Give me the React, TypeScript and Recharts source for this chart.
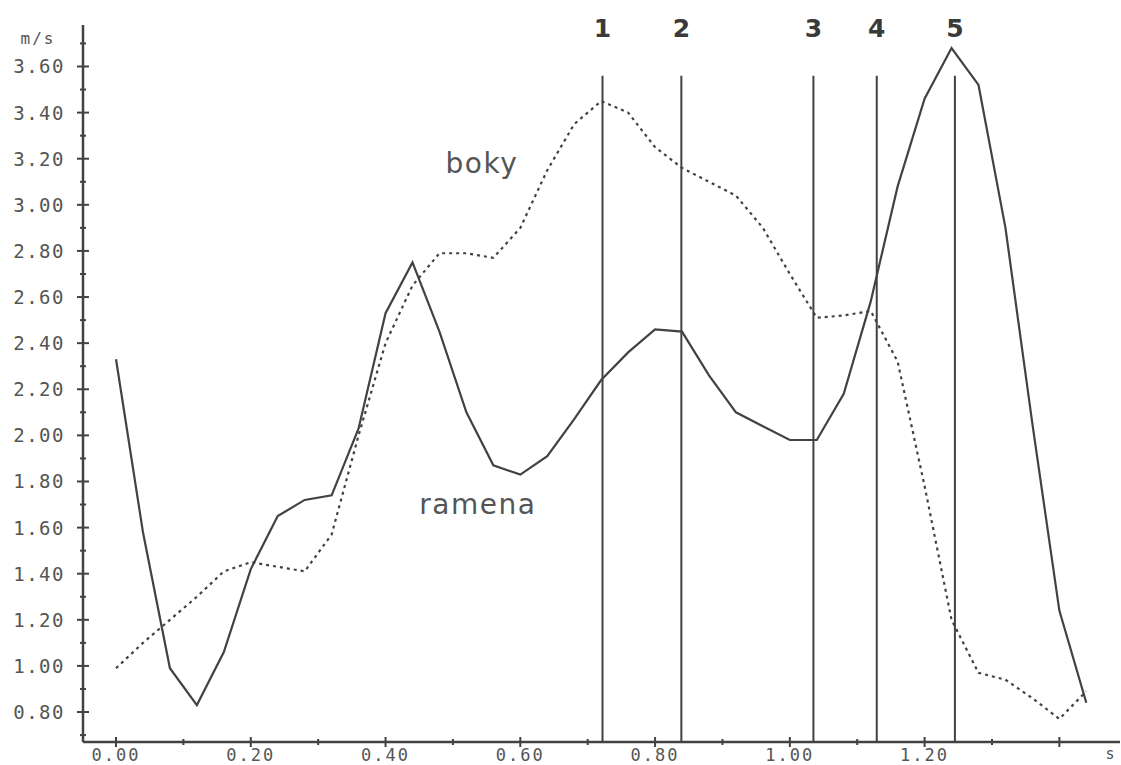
import { LineChart, Line, XAxis, YAxis, ReferenceLine, ReferenceDot } from "recharts";

const times = [
  0.0, 0.04, 0.08, 0.12, 0.16, 0.2, 0.24, 0.28, 0.32, 0.36, 0.4, 0.44, 0.48,
  0.52, 0.56, 0.6, 0.64, 0.68, 0.72, 0.76, 0.8, 0.84, 0.88, 0.92, 0.96, 1.0,
  1.04, 1.08, 1.12, 1.16, 1.2, 1.24, 1.28, 1.32, 1.36, 1.4, 1.44,
];

// shoulders (solid)
const ramena = [
  2.33, 1.58, 0.99, 0.83, 1.06, 1.42, 1.65, 1.72, 1.74, 2.03, 2.53, 2.75, 2.45,
  2.1, 1.87, 1.83, 1.91, 2.07, 2.24, 2.36, 2.46, 2.45, 2.26, 2.1, 2.04, 1.98,
  1.98, 2.18, 2.58, 3.08, 3.46, 3.68, 3.52, 2.9, 2.05, 1.24, 0.84,
];

// hips (dotted)
const boky = [
  0.99, 1.1, 1.2, 1.3, 1.41, 1.45, 1.43, 1.41, 1.57, 2.0, 2.4, 2.65, 2.79,
  2.79, 2.77, 2.9, 3.15, 3.35, 3.45, 3.4, 3.25, 3.16, 3.1, 3.04, 2.9, 2.7,
  2.51, 2.52, 2.54, 2.32, 1.78, 1.2, 0.97, 0.94, 0.86, 0.77, 0.89,
];

const markerTimes = [0.722, 0.839, 1.035, 1.129, 1.245];
const markerLabels = ["1", "2", "3", "4", "5"];

const xTicks = [0, 0.1, 0.2, 0.3, 0.4, 0.5, 0.6, 0.7, 0.8, 0.9, 1.0, 1.1, 1.2, 1.3, 1.4];
const yTicks = [
  0.7, 0.8, 0.9, 1.0, 1.1, 1.2, 1.3, 1.4, 1.5, 1.6, 1.7, 1.8, 1.9, 2.0, 2.1,
  2.2, 2.3, 2.4, 2.5, 2.6, 2.7, 2.8, 2.9, 3.0, 3.1, 3.2, 3.3, 3.4, 3.5, 3.6, 3.7,
];

const INK = "#424242";
const TEXT = "#555";
const MONO = "'DejaVu Sans Mono', monospace";

const data = times.map((t, i) => ({ t, ramena: ramena[i], boky: boky[i] }));

const isMajor = (v: number) => Math.round(v * 10) % 2 === 0;

function YTick(props: any) {
  const { x, y, payload } = props;
  const v = payload.value as number;
  const major = isMajor(v);
  return (
    <g>
      <line x1={major ? x - 6 : x - 3} x2={major ? x + 6 : x + 3} y1={y} y2={y} stroke={INK} strokeWidth={2} />
      {major && (
        <text x={x - 18} y={y} textAnchor="end" dominantBaseline="central" fontFamily={MONO} fontSize={19} letterSpacing={1.5} fill={TEXT}>
          {v.toFixed(2)}
        </text>
      )}
    </g>
  );
}

function XTick(props: any) {
  const { x, y, payload } = props;
  const v = payload.value as number;
  const major = isMajor(v);
  return (
    <g>
      <line x1={x} x2={x} y1={major ? y - 5 : y - 3} y2={major ? y + 5 : y + 3} stroke={INK} strokeWidth={2} />
      {major && v < 1.3 && (
        <text x={x} y={y + 13} textAnchor="middle" dominantBaseline="central" fontFamily={MONO} fontSize={17} letterSpacing={2} fill={TEXT}>
          {v.toFixed(2)}
        </text>
      )}
    </g>
  );
}

export default function App() {
  return (
    <div style={{ position: "absolute", left: 0, top: 0, background: "#fff" }}>
      <LineChart width={1121} height={765} data={data} margin={{ top: 25, right: 1, bottom: 0, left: 0 }}>
        <XAxis
          dataKey="t"
          type="number"
          domain={[-0.049, 1.49]}
          allowDataOverflow
          ticks={xTicks}
          interval={0}
          height={23}
          tickSize={0}
          tickMargin={0}
          tickLine={false}
          tick={<XTick />}
          axisLine={{ stroke: INK, strokeWidth: 2.5 }}
          label={{
            content: (p: any) => (
              <text x={p.viewBox.x + p.viewBox.width - 10} y={p.viewBox.y + 12} textAnchor="middle" dominantBaseline="central" fontFamily={MONO} fontSize={15} fill={TEXT}>
                s
              </text>
            ),
          }}
        />
        <YAxis
          type="number"
          domain={[0.67, 3.78]}
          allowDataOverflow
          ticks={yTicks}
          interval={0}
          width={83}
          tickSize={0}
          tickMargin={0}
          tickLine={false}
          tick={<YTick />}
          axisLine={{ stroke: INK, strokeWidth: 2.5 }}
          label={{
            content: (p: any) => (
              <text x={p.viewBox.x + 38} y={p.viewBox.y + 13} textAnchor="middle" dominantBaseline="central" fontFamily={MONO} fontSize={16} letterSpacing={2} fill={TEXT}>
                m/s
              </text>
            ),
          }}
        />
        {markerTimes.map((t) => (
          <ReferenceLine
            key={"m" + t}
            segment={[
              { x: t, y: 0.67 },
              { x: t, y: 3.56 },
            ]}
            stroke={INK}
            strokeWidth={2}
          />
        ))}
        {markerTimes.map((t, i) => (
          <ReferenceDot
            key={"l" + t}
            x={t}
            y={3.765}
            r={0}
            fill="none"
            stroke="none"
            label={{
              value: markerLabels[i],
              position: "center",
              fontFamily: "'DejaVu Sans', sans-serif",
              fontWeight: "bold",
              fontSize: 25,
              fill: "#3a3a3a",
            }}
          />
        ))}
        <Line
          dataKey="boky"
          stroke={INK}
          strokeWidth={2.2}
          strokeDasharray="3 4"
          dot={false}
          type="linear"
          isAnimationActive={false}
        />
        <Line
          dataKey="ramena"
          stroke={INK}
          strokeWidth={2.2}
          dot={false}
          type="linear"
          isAnimationActive={false}
        />
        <ReferenceDot
          x={0.543}
          y={3.181}
          r={0}
          fill="none"
          stroke="none"
          label={{ value: "boky", position: "center", fontFamily: "'DejaVu Sans', sans-serif", fontSize: 28, letterSpacing: 1.5, fill: TEXT }}
        />
        <ReferenceDot
          x={0.537}
          y={1.702}
          r={0}
          fill="none"
          stroke="none"
          label={{ value: "ramena", position: "center", fontFamily: "'DejaVu Sans', sans-serif", fontSize: 28, letterSpacing: 1.5, fill: TEXT }}
        />
      </LineChart>
    </div>
  );
}
